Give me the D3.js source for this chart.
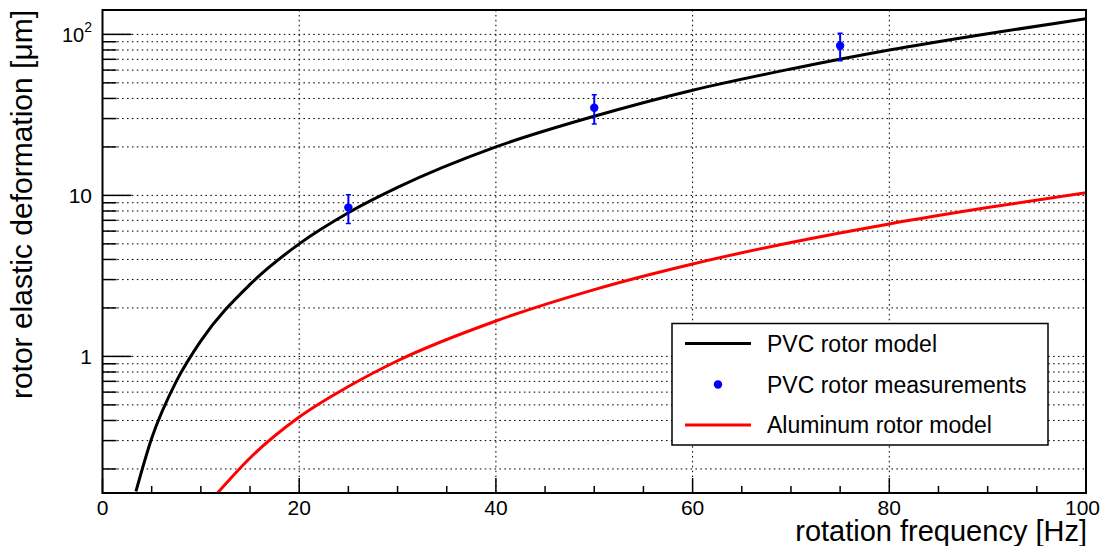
<!DOCTYPE html>
<html lang="en">
<head>
<meta charset="UTF-8">
<title>rotor deformation</title>
<script src="https://cdnjs.cloudflare.com/ajax/libs/d3/7.8.5/d3.min.js"></script>
<style>
  body { margin: 0; background: #fff; }
  svg text { font-family: "Liberation Sans", Arial, Helvetica, sans-serif; fill: #000; }
  .grid line { stroke: #000; stroke-width: 1; stroke-dasharray: 1.6,3.3; }
</style>
</head>
<body>
<div id="chart"></div>
<script>
// values
var pvcFreq  = [3.4, 5, 7.5, 10, 15, 20, 25, 30, 40, 50, 60, 70, 80, 90, 100];
var pvcModel = [0.145, 0.31, 0.70, 1.25, 2.8, 5.0, 7.8, 11.2, 20, 31, 45, 61, 80, 101, 125];

var aluFreq  = [11.7, 15, 20, 25, 30, 40, 50, 60, 70, 80, 90, 100];
var aluModel = [0.142, 0.234, 0.42, 0.65, 0.94, 1.66, 2.6, 3.75, 5.1, 6.65, 8.4, 10.4];

var measFreq = [25, 50, 75];
var measVal  = [8.4, 35, 85];
var measErr  = [1.7, 7.2, 16.5];

var xTicks = [0, 20, 40, 60, 80, 100];
var legendLabels = ["PVC rotor model", "PVC rotor measurements", "Aluminum rotor model"];

var width = 1102, height = 546;
var plotL = 102.5, plotR = 1086, plotT = 10, plotB = 493;

var svg = d3.select('#chart').append('svg')
    .attr('width', width)
    .attr('height', height);

var x = d3.scaleLinear().domain([0, 100]).range([plotL, plotR]);
var y = d3.scaleLog().domain([0.1418, 141.7]).range([plotB, plotT]);

svg.append('clipPath').attr('id', 'plotclip')
  .append('rect')
    .attr('x', plotL).attr('y', plotT)
    .attr('width', plotR - plotL).attr('height', plotB - plotT);

// grid
var grid = svg.append('g').attr('class', 'grid');
grid.selectAll('line.gy')
  .data(y.ticks())
  .enter().append('line')
    .attr('x1', plotL).attr('x2', plotR)
    .attr('y1', function (d) { return y(d); })
    .attr('y2', function (d) { return y(d); });
grid.selectAll('line.gx')
  .data(xTicks.slice(1))
  .enter().append('line')
    .attr('y1', plotT).attr('y2', plotB)
    .attr('x1', function (d) { return x(d); })
    .attr('x2', function (d) { return x(d); });

// ticks, drawn inside the frame
var isDecade = function (d) { return Math.abs(Math.log10(d) - Math.round(Math.log10(d))) < 1e-6; };
var ticks = svg.append('g').attr('stroke', '#000').attr('stroke-width', 1.5);
ticks.selectAll('line.ty')
  .data(y.ticks())
  .enter().append('line')
    .attr('x1', plotL)
    .attr('x2', function (d) { return isDecade(d) ? plotL + 29 : plotL + 14; })
    .attr('y1', function (d) { return y(d); })
    .attr('y2', function (d) { return y(d); });
ticks.selectAll('line.tx')
  .data(d3.range(0, 101, 5))
  .enter().append('line')
    .attr('x1', function (d) { return x(d); })
    .attr('x2', function (d) { return x(d); })
    .attr('y1', plotB)
    .attr('y2', function (d) { return d % 20 === 0 ? plotB - 15 : plotB - 7; });

// tick labels (the last one is kept inside the page)
svg.selectAll('text.xl')
  .data(xTicks)
  .enter().append('text')
    .attr('x', function (d, i) { return i === xTicks.length - 1 ? width - 2 : x(d); })
    .attr('y', 515)
    .attr('text-anchor', function (d, i) { return i === xTicks.length - 1 ? 'end' : 'middle'; })
    .style('font-size', '21px')
    .text(function (d) { return d; });

svg.append('text').attr('x', 92).attr('y', y(1) + 7.5)
    .attr('text-anchor', 'end').style('font-size', '21px').text('1');
svg.append('text').attr('x', 92).attr('y', y(10) + 7.5)
    .attr('text-anchor', 'end').style('font-size', '21px').text('10');
var t100 = svg.append('text').attr('x', 92).attr('y', y(100) + 8)
    .attr('text-anchor', 'end').style('font-size', '20px');
t100.append('tspan').text('10');
t100.append('tspan').attr('dy', -10).style('font-size', '14px').text('2');

// curves
var line = d3.line()
    .x(function (d) { return x(d[0]); })
    .y(function (d) { return y(d[1]); })
    .curve(d3.curveMonotoneX);

var plot = svg.append('g').attr('clip-path', 'url(#plotclip)');
plot.append('path')
    .datum(d3.zip(aluFreq, aluModel))
    .attr('d', line)
    .attr('fill', 'none')
    .attr('stroke', '#ff0000')
    .attr('stroke-width', 3);
plot.append('path')
    .datum(d3.zip(pvcFreq, pvcModel))
    .attr('d', line)
    .attr('fill', 'none')
    .attr('stroke', '#000')
    .attr('stroke-width', 3);

// measurements with error bars
var meas = plot.selectAll('g.meas')
  .data(d3.zip(measFreq, measVal, measErr))
  .enter().append('g');
meas.append('line')
    .attr('x1', function (d) { return x(d[0]); })
    .attr('x2', function (d) { return x(d[0]); })
    .attr('y1', function (d) { return y(d[1] - d[2]); })
    .attr('y2', function (d) { return y(d[1] + d[2]); })
    .attr('stroke', '#0000ff').attr('stroke-width', 2);
meas.selectAll('line.cap')
  .data(function (d) { return [d[1] - d[2], d[1] + d[2]].map(function (v) { return [d[0], v]; }); })
  .enter().append('line')
    .attr('x1', function (d) { return x(d[0]) - 2.5; })
    .attr('x2', function (d) { return x(d[0]) + 2.5; })
    .attr('y1', function (d) { return y(d[1]); })
    .attr('y2', function (d) { return y(d[1]); })
    .attr('stroke', '#0000ff').attr('stroke-width', 1.5);
meas.append('circle')
    .attr('cx', function (d) { return x(d[0]); })
    .attr('cy', function (d) { return y(d[1]); })
    .attr('r', 4.2)
    .attr('fill', '#0000ff');

// frame
svg.append('rect')
    .attr('x', plotL).attr('y', plotT)
    .attr('width', plotR - plotL).attr('height', plotB - plotT)
    .attr('fill', 'none').attr('stroke', '#000').attr('stroke-width', 2);

// axis titles
svg.append('text')
    .attr('x', plotR + 1).attr('y', 541)
    .attr('text-anchor', 'end')
    .style('font-size', '29px')
    .text('rotation frequency [Hz]');
svg.append('text')
    .attr('transform', 'translate(32,' + plotT + ') rotate(-90)')
    .attr('text-anchor', 'end')
    .style('font-size', '30px')
    .text('rotor elastic deformation [\u03bcm]');

// legend
var lg = svg.append('g');
lg.append('rect')
    .attr('x', 672).attr('y', 323.5)
    .attr('width', 376).attr('height', 121.5)
    .attr('fill', '#fff').attr('stroke', '#000').attr('stroke-width', 1.5);
var rows = [343.5, 384.5, 425];
lg.append('line').attr('x1', 685).attr('x2', 751).attr('y1', rows[0]).attr('y2', rows[0])
    .attr('stroke', '#000').attr('stroke-width', 3);
lg.append('circle').attr('cx', 718).attr('cy', rows[1]).attr('r', 4.2).attr('fill', '#0000ff');
lg.append('line').attr('x1', 685).attr('x2', 751).attr('y1', rows[2]).attr('y2', rows[2])
    .attr('stroke', '#ff0000').attr('stroke-width', 3);
lg.selectAll('text.lt')
  .data(legendLabels)
  .enter().append('text')
    .attr('x', 767)
    .attr('y', function (d, i) { return rows[i] + 8; })
    .style('font-size', '23px')
    .text(function (d) { return d; });
</script>
</body>
</html>
